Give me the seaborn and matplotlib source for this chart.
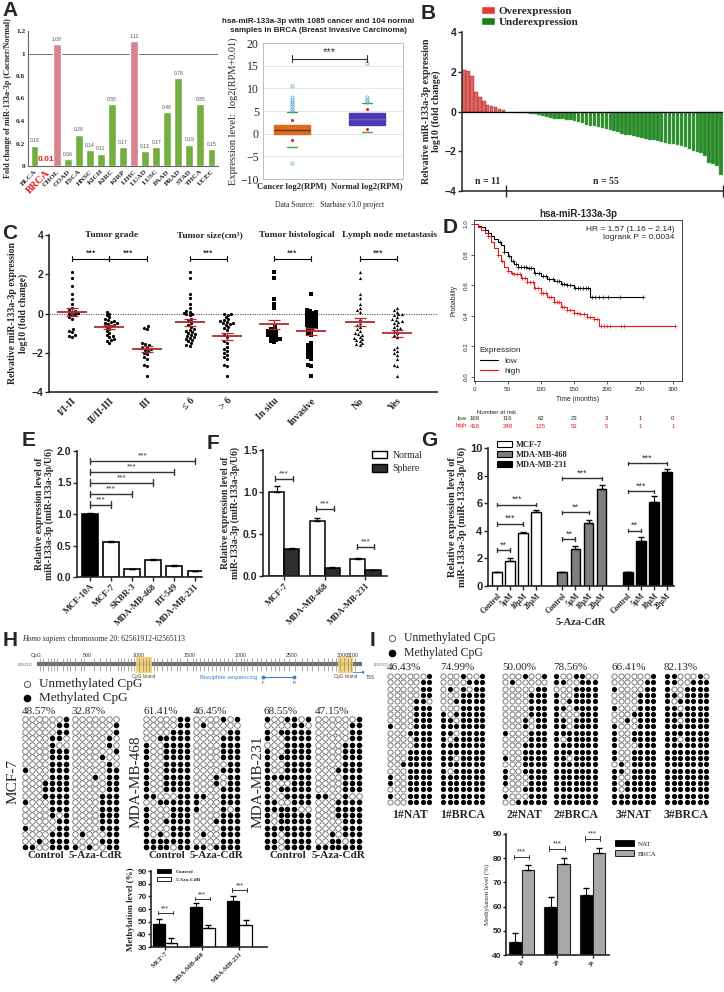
import numpy as np
import pandas as pd
import seaborn as sns
import matplotlib.pyplot as plt
import matplotlib.transforms as mtransforms
from matplotlib.patches import Patch, Rectangle
from matplotlib.lines import Line2D

# ---------------- data ----------------
# A left: fold change of miR-133a-3p in TCGA cancers
cancers = ['BLCA', 'BRCA', 'CHOL', 'COAD', 'ESCA', 'HNSC', 'KICH', 'KIRC', 'KIRP',
           'LIHC', 'LUAD', 'LUSC', 'PAAD', 'PRAD', 'STAD', 'THCA', 'UCEC']
fold_change = [0.18, 0.01, 1.08, 0.06, 0.28, 0.14, 0.11, 0.55, 0.17,
               1.11, 0.13, 0.17, 0.48, 0.78, 0.19, 0.55, 0.15]

# A right: starbase box summary
box_groups = ['Cancer log2(RPM)', 'Normal log2(RPM)']
box_med = [0.9, 3.3]
box_q1 = [-0.1, 2.0]
box_q3 = [2.0, 4.5]
box_lo = [-3.0, 0.3]
box_hi = [4.7, 6.8]
box_fliers = [[5.0, 5.5, 6.0, 6.5, 7.0, 7.5, 8.0, 10.5, -6.5], [7.0, 7.5, 8.0, 15.5]]
box_marks = [[3.0, -1.5], [5.5, 1.0]]

# B: waterfall of 66 patients
over_vals = [2.1, 2.05, 1.8, 1.0, 0.75, 0.55, 0.35, 0.3, 0.25, 0.15, 0.1]
under_vals = [-0.03, -0.04, -0.05, -0.06, -0.08, -0.1, -0.12, -0.15, -0.2, -0.25,
              -0.3, -0.35, -0.38, -0.4, -0.4, -0.42, -0.45, -0.5, -0.55, -0.6,
              -0.7, -0.72, -0.75, -0.8, -0.85, -0.9, -0.95, -1.0, -1.05, -1.15,
              -1.2, -1.2, -1.25, -1.3, -1.35, -1.4, -1.42, -1.45, -1.5, -1.55,
              -1.6, -1.62, -1.65, -1.7, -1.75, -1.8, -1.9, -2.0, -2.05, -2.1,
              -2.25, -2.6, -2.65, -2.75, -3.2]

# C: clinical groups
grade_1 = [2.1, 1.8, 1.4, 1.0, 0.75, 0.5, 0.3, 0.2, 0.15, 0.1, 0.05, 0.0, -0.05, -0.1,
           -0.2, -0.3, -0.8, -0.9, -0.95, -1.1, -1.15, -1.2]
grade_2 = [0.1, 0.0, -0.1, -0.2, -0.3, -0.35, -0.4, -0.45, -0.5, -0.5, -0.55, -0.6,
           -0.65, -0.7, -0.8, -0.9, -1.0, -1.1, -1.15, -1.2, -1.3, -1.35, -1.4, -1.5]
grade_3 = [-0.65, -0.75, -0.8, -1.5, -1.55, -1.6, -1.7, -1.75, -1.8, -1.85, -1.9, -2.0,
           -2.05, -2.2, -2.3, -2.6, -2.65, -3.2]
size_le6 = [2.1, 1.8, 1.0, 0.8, 0.5, 0.3, 0.15, 0.1, 0.05, 0.0, -0.05, -0.1, -0.3, -0.4,
            -0.5, -0.6, -0.7, -0.8, -0.85, -0.9, -0.95, -1.0, -1.05, -1.1, -1.15, -1.2,
            -1.25, -1.3, -1.35, -1.4, -1.5, -1.6, -1.65]
size_gt6 = [0.0, -0.05, -0.1, -0.2, -0.3, -0.35, -0.4, -0.45, -0.5, -0.5, -0.55, -0.6,
            -0.7, -0.75, -0.85, -1.1, -1.2, -1.4, -1.5, -1.7, -1.8, -1.9, -2.0, -2.1,
            -2.2, -2.3, -2.6, -2.65, -3.2]
hist_situ = [2.1, 1.8, 0.75, 0.5, 0.3, -0.7, -0.8, -0.85, -0.9, -0.95, -1.0, -1.05,
             -1.1, -1.15, -1.2, -1.25, -1.3, -1.35, -1.4, -1.45]
hist_inv = [1.0, 0.2, 0.15, 0.1, 0.05, 0.0, -0.05, -0.1, -0.15, -0.2, -0.25, -0.3, -0.35,
            -0.4, -0.45, -0.5, -0.55, -0.6, -0.65, -0.7, -0.75, -0.8, -0.9, -1.0, -1.1,
            -1.5, -1.6, -1.7, -1.8, -1.9, -2.0, -2.1, -2.2, -2.3, -2.6, -2.65, -3.2]
lymph_no = [2.1, 1.8, 1.0, 0.8, 0.5, 0.3, 0.2, 0.1, -0.3, -0.5, -0.6, -0.7, -0.8, -0.9,
            -1.0, -1.05, -1.1, -1.2, -1.25, -1.3, -1.35, -1.4, -1.5, -1.55, -1.6]
lymph_yes = [0.3, 0.2, 0.1, 0.0, -0.05, -0.1, -0.2, -0.3, -0.35, -0.4, -0.45, -0.5, -0.6,
             -0.7, -0.75, -0.8, -0.9, -1.0, -1.1, -1.2, -1.7, -1.8, -1.9, -2.0, -2.1,
             -2.3, -2.6, -2.65, -3.2]
c_titles = ['Tumor grade', 'Tumor size(cm³)', 'Tumor histological', 'Lymph node metastasis']
c_labels = [['I/I-II', 'II/II-III', 'III'], ['≤ 6', '> 6'], ['In situ', 'Invasive'], ['No', 'Yes']]
c_values = [[grade_1, grade_2, grade_3], [size_le6, size_gt6], [hist_situ, hist_inv],
            [lymph_no, lymph_yes]]
c_markers = ['o', 'o', 's', '^']

# D: Kaplan-Meier
low_t = [0, 5, 10, 15, 20, 25, 30, 35, 40, 45, 50, 55, 60, 65, 80, 90, 100, 110, 120,
         130, 140, 150, 175]
low_s = [1.0, 0.99, 0.98, 0.96, 0.94, 0.92, 0.90, 0.88, 0.86, 0.82, 0.79, 0.76, 0.74,
         0.72, 0.71, 0.68, 0.66, 0.64, 0.63, 0.61, 0.60, 0.58, 0.525]
low_end = 255
high_t = [0, 5, 10, 15, 20, 25, 30, 35, 40, 45, 50, 55, 60, 70, 80, 90, 100, 110, 120,
          130, 140, 150, 160, 170, 180, 188]
high_s = [1.0, 0.98, 0.96, 0.94, 0.92, 0.88, 0.84, 0.80, 0.76, 0.72, 0.69, 0.68, 0.67,
          0.65, 0.62, 0.58, 0.55, 0.52, 0.49, 0.46, 0.44, 0.42, 0.41, 0.39, 0.38, 0.335]
high_end = 303
low_censor = [38, 45, 52, 58, 62, 66, 70, 75, 78, 82, 86, 92, 98, 104, 108, 112, 118, 124,
              128, 132, 136, 140, 145, 152, 156, 160, 164, 168, 172, 178, 183, 188, 195,
              202, 220, 255]
high_censor = [20, 35, 42, 50, 56, 60, 64, 68, 72, 76, 80, 84, 88, 92, 96, 100, 104, 108,
               112, 116, 120, 124, 128, 132, 136, 140, 144, 150, 155, 160, 165, 170, 175,
               180, 186, 192, 196, 200, 205, 222, 226, 303]
risk_times = [0, 50, 100, 150, 200, 250, 300]
risk_low = [169, 116, 62, 23, 3, 1, 0]
risk_high = [416, 248, 125, 53, 5, 1, 1]

# E: cell lines
e_lines = ['MCF-10A', 'MCF-7', 'SKBR-3', 'MDA-MB-468', 'BT-549', 'MDA-MB-231']
e_vals = [1.0, 0.56, 0.12, 0.27, 0.18, 0.09]
e_err = [0.01, 0.01, 0.005, 0.01, 0.01, 0.005]
e_sig_y = [1.15, 1.32, 1.5, 1.67, 1.84]

# F: normal vs sphere
f_cells = ['MCF-7', 'MDA-MB-468', 'MDA-MB-231']
f_normal = [1.0, 0.65, 0.2]
f_normal_err = [0.07, 0.04, 0.01]
f_sphere = [0.32, 0.1, 0.07]
f_sphere_err = [0.01, 0.01, 0.005]
f_sig_y = [1.16, 0.8, 0.35]

# G: 5-Aza-CdR dose
g_cells = ['MCF-7', 'MDA-MB-468', 'MDA-MB-231']
g_doses = ['Control', '5μM', '10μM', '20μM']
g_mcf7 = [1.0, 1.8, 3.85, 5.35]
g_mcf7_err = [0.03, 0.25, 0.08, 0.15]
g_468 = [1.0, 2.65, 4.6, 7.05]
g_468_err = [0.03, 0.25, 0.2, 0.25]
g_231 = [1.0, 3.25, 6.1, 8.25]
g_231_err = [0.03, 0.3, 0.4, 0.25]
g_sig = [[(1, 2.6, '**'), (2, 4.5, '***'), (3, 5.9, '***')],
         [(1, 3.4, '**'), (2, 5.35, '**'), (3, 7.8, '***')],
         [(1, 4.0, '**'), (2, 6.85, '***'), (3, 8.9, '***')]]

# H: bisulfite sequencing (1 = methylated CpG)
cpg_sites = [30, 60, 110, 140, 170, 200, 260, 300, 330, 380, 440, 470, 560, 620, 680, 720,
             800, 830, 860, 900, 930, 960, 1000, 1040, 1070, 1100, 1150, 1180, 1230, 1280,
             1320, 1380, 1410, 1480, 1530, 1560, 1600, 1640, 1680, 1720, 1760, 1800, 1840,
             1880, 1920, 1960, 2000, 2030, 2060, 2110, 2160, 2200, 2250, 2300, 2340, 2380,
             2430, 2480, 2530, 2600, 2650, 2700, 2760, 2820, 2860, 2900, 2940, 2980, 3010,
             3050, 3080, 3120]
cpg_islands = [(975, 1132), (2956, 3103)]
scale_ticks = [0, 500, 1000, 1500, 2000, 2500, 3000, 3100]
scale_labels = ['CpG', '500', '1000', '1500', '2000', '2500', '3000', '3100']
primer_f, primer_r = 2221, 2525
tss = 3073

h_pct = ['48.57%', '32.87%', '61.41%', '46.45%', '68.55%', '47.15%']
h_grids = [
    ['0000001', '0000011', '0000011', '0000110', '0000100', '0000111', '0000111',
     '0000111', '1000111', '0000111', '0001111', '0001111', '0001111', '1000111',
     '0000111', '0000101', '0000011', '1000011', '0000111', '0010111', '1100111'],
    ['0000000', '0000001', '0000001', '0000010', '0000010', '0000001', '0000100',
     '0000010', '0000011', '0001011', '0000011', '0000011', '0000111', '0000111',
     '0000111', '0000111', '0000111', '0000111', '0100011', '0000111', '1010011'],
    ['0000011', '0000011', '0000111', '0011111', '1001111', '1001111', '1001111',
     '1001111', '1001111', '1001111', '1001111', '1001111', '1100011', '0011111',
     '1000111', '1000111', '1001111', '1000111', '1010111', '1111111', '1111011'],
    ['0000101', '0100000', '0000011', '0000111', '0000111', '0000111', '0000111',
     '0000011', '0000111', '0001011', '0001011', '0000111', '1100111', '1000111',
     '1000101', '0000111', '0001111', '0000111', '0100111', '0000111', '1101111'],
    ['1001101', '0000110', '1011111', '1001111', '0001111', '1001111', '1011111',
     '1001111', '1001111', '1111111', '1000111', '1011111', '1001111', '1100111',
     '1111100', '1011111', '1011111', '1111111', '1101111', '1101111', '1101111'],
    ['0000001', '0000011', '0000011', '0000011', '0000111', '0000111', '0000111',
     '0000111', '0001111', '0000111', '0000111', '0000111', '1100100', '0001111',
     '0001111', '0001111', '0000111', '0000111', '0010111', '0011011', '1111111'],
]
h_names = ['MCF-7', 'MDA-MB-468', 'MDA-MB-231']
h_conds = ['Control', '5-Aza-CdR']
h_control = [48.5, 61.5, 66.5]
h_control_err = [3.5, 3.5, 3.5]
h_aza = [33.0, 45.0, 47.0]
h_aza_err = [4.0, 2.5, 4.0]
h_sig_y = [57, 68, 75]

# I: patient tissue bisulfite sequencing
i_pct = ['46.43%', '74.99%', '50.00%', '78.56%', '66.41%', '82.13%']
i_names = ['1#NAT', '1#BRCA', '2#NAT', '2#BRCA', '3#NAT', '3#BRCA']
i_grids = [
    ['0000001', '0000011', '0000011', '0000011', '0000110', '0000111', '0000111',
     '0000111', '1000111', '0001111', '0000111', '0000111', '0001111', '0001111',
     '0011111', '0001111', '1001111', '1001111', '0001111', '1001111', '0001111'],
    ['0001001', '0000111', '0101011', '0001111', '0011111', '0001111', '1011111',
     '1101111', '1111111', '1101111', '1011111', '1111111', '1111111', '1101111',
     '1111111', '1011111', '1111111', '1111111', '1111111', '1111111', '1111111'],
    ['0001001', '0100000', '0000011', '0000111', '0000111', '0000111', '0000111',
     '0001011', '0001011', '1000111', '0000111', '0001111', '0001111', '1001111',
     '0001111', '1001111', '1000111', '1000111', '0001111', '1000111', '0011111'],
    ['1001100', '1100111', '0001111', '1001111', '1011111', '1101111', '1000111',
     '1101111', '1101111', '1111111', '1011111', '1111111', '1111111', '1101111',
     '1111111', '1111111', '1111111', '1111111', '1111111', '1111111', '1111111'],
    ['0000001', '0000011', '1000011', '0000111', '0000111', '1000111', '0001111',
     '0010111', '1000111', '1001111', '1001111', '1000111', '1001111', '1001111',
     '0101111', '1101111', '1001111', '1011111', '1011111', '1111111', '1111111'],
    ['1100010', '1100111', '1001111', '1101111', '1011111', '1101111', '1111111',
     '1101111', '1111111', '1111111', '1101111', '1111111', '1111111', '1111111',
     '1111111', '1111111', '1111111', '1111111', '1111111', '1111111', '1111111'],
]
i_pairs = ['1#', '2#', '3#']
i_nat = [45.5, 60.0, 65.0]
i_nat_err = [3.5, 3.8, 2.5]
i_brca = [75.0, 77.5, 82.3]
i_brca_err = [2.0, 2.5, 1.8]
i_sig_y = [80.5, 84, 88]

# ---------------- style ----------------
sns.set_theme(style="ticks")
plt.rcParams['font.family'] = ['Liberation Sans', 'DejaVu Sans']
plt.rcParams['axes.linewidth'] = 0.8
SERIF = ['Liberation Serif', 'DejaVu Serif']
SANS = ['Liberation Sans', 'DejaVu Sans']

W, H = 724, 992
fig = plt.figure(figsize=(W / 100, H / 100), dpi=100)
ov = fig.add_axes([0, 0, 1, 1])
ov.set_xlim(0, W)
ov.set_ylim(H, 0)
ov.axis('off')


def px_axes(x0, y0, x1, y1):
    return fig.add_axes([x0 / W, 1 - y1 / H, (x1 - x0) / W, (y1 - y0) / H])


def ftext(x, y, s, **kw):
    ov.text(x, y, s, **kw)


def style_ticks(ax, size, family=SANS, weight='bold', which='both'):
    labs = []
    if which in ('both', 'x'):
        labs += ax.get_xticklabels()
    if which in ('both', 'y'):
        labs += ax.get_yticklabels()
    for t in labs:
        t.set_fontsize(size)
        t.set_family(family)
        t.set_fontweight(weight)


def bracket(ax, x0, x1, y, txt, dy, size=6.5, color='black', lw=0.8):
    ax.plot([x0, x1], [y, y], color=color, lw=lw, clip_on=False)
    ax.plot([x0, x0], [y - dy, y + dy], color=color, lw=lw, clip_on=False)
    ax.plot([x1, x1], [y - dy, y + dy], color=color, lw=lw, clip_on=False)
    ax.text((x0 + x1) / 2, y + dy * 0.5, txt, ha='center', va='bottom', fontsize=size,
            color=color, clip_on=False)


def panel_letter(x, y, s):
    ftext(x, y, s, fontsize=15, fontweight='bold', family=SANS, va='top', ha='left')


def bar_axes_finish(ax, ylab, ysize=7.5, xsize=6.5, lab_size=7):
    sns.despine(ax=ax)
    ax.set_xlabel('')
    ax.set_ylabel(ylab, fontsize=lab_size, family=SERIF, fontweight='bold', labelpad=2,
                  linespacing=1.1)
    ax.tick_params(axis='y', length=3, width=1.0, pad=1)
    ax.tick_params(axis='x', length=3, width=1.0, pad=1)
    for sp in ax.spines.values():
        sp.set_linewidth(1.2)
    style_ticks(ax, ysize, SANS, 'bold', 'y')
    style_ticks(ax, xsize, SERIF, 'bold', 'x')


# ---------------- A left ----------------
panel_letter(2, 1, 'A')
axA = px_axes(28, 31, 218, 166)
colA = ['#222222' if c == 'BRCA' else ('#d98390' if v > 1 else '#74ae41')
        for c, v in zip(cancers, fold_change)]
sns.barplot(x=cancers, y=fold_change, hue=cancers, palette=colA, legend=False, width=0.7,
            saturation=1, ax=axA)
axA.axhline(1, color='#707070', lw=0.7, zorder=0)
for i, (c, v) in enumerate(zip(cancers, fold_change)):
    if c == 'BRCA':
        axA.text(i, v + 0.02, f'{v:.2f}', ha='center', va='bottom', fontsize=6,
                 color='#e0201b', fontweight='bold')
    else:
        axA.text(i, v + 0.02, f'{v:.2f}', ha='center', va='bottom', fontsize=3.6,
                 color='#555555')
axA.set_ylim(0, 1.2)
axA.set_xlim(-0.6, 16.6)
axA.set_yticks([0, 0.2, 0.4, 0.6, 0.8, 1.0, 1.2])
axA.set_yticklabels(['0', '0.2', '0.4', '0.6', '0.8', '1', '1.2'])
axA.set_xticks(range(len(cancers)))
axA.set_xticklabels(cancers, rotation=45, ha='right', rotation_mode='anchor')
style_ticks(axA, 5.2, SERIF)
brca_lab = axA.get_xticklabels()[cancers.index('BRCA')]
brca_lab.set_color('#e0201b')
brca_lab.set_fontsize(7.5)
axA.tick_params(axis='x', length=0, pad=2)
axA.tick_params(axis='y', length=0, pad=2)
axA.set_ylabel('Fold change of miR-133a-3p (Cacner/Normal)', fontsize=5.9, family=SERIF,
               fontweight='bold', labelpad=3)
sns.despine(ax=axA)
for sp in axA.spines.values():
    sp.set_color('#666666')

# ---------------- A right ----------------
ftext(318, 26, 'hsa-miR-133a-3p with 1085 cancer and 104 normal\nsamples in BRCA (Breast Invasive Carcinoma)',
      ha='center', va='center', fontsize=5.8, fontweight='bold', family=SANS, linespacing=1.35)
axBox = px_axes(263, 43, 403, 179)
stats = [dict(med=box_med[i], q1=box_q1[i], q3=box_q3[i], whislo=box_lo[i],
              whishi=box_hi[i], fliers=box_fliers[i], label=box_groups[i]) for i in range(2)]
bp = axBox.bxp(stats, positions=[1, 2], widths=0.49, patch_artist=True, capwidths=0.14,
               medianprops=dict(lw=1.0), whiskerprops=dict(lw=0),
               capprops=dict(color='#3fa34d', lw=1.0),
               flierprops=dict(marker='o', mfc='none', mec='#4aa3c8', ms=2.3, mew=0.5))
for patch, fc, mc, line in zip(bp['boxes'], ['#dd6a1f', '#4a3aae'], ['#6b3410', '#6a5fd0'],
                               bp['medians']):
    patch.set_facecolor(fc)
    patch.set_edgecolor(fc)
    line.set_color(mc)
for i, marks in enumerate(box_marks):
    axBox.scatter([i + 1] * len(marks), marks, s=1.5, color='#e02020', zorder=5)
axBox.set_xlim(0.614, 2.48)
axBox.set_ylim(-10, 20)
axBox.set_yticks(range(-10, 21, 5))
axBox.yaxis.grid(True, color='#e3e3e3', lw=0.6)
axBox.set_axisbelow(True)
for sp in axBox.spines.values():
    sp.set_color('#bdbdbd')
    sp.set_linewidth(0.7)
axBox.tick_params(length=0, pad=3)
axBox.set_xticks([1, 2])
axBox.set_xticklabels(box_groups)
style_ticks(axBox, 8.5, SERIF, 'normal', 'y')
style_ticks(axBox, 6.2, SERIF, 'bold', 'x')
axBox.set_ylabel('Expression level:  log2(RPM+0.01)', fontsize=7.5, family=SERIF, labelpad=2)
bracket(axBox, 1, 2, 16.5, '***', 0.8, size=8, color='#333333')
ftext(330, 205, 'Data Source:   Starbase v3.0 project', ha='center', va='center', fontsize=5.5,
      family=SERIF)

# ---------------- B ----------------
panel_letter(421, 4, 'B')
axB = px_axes(462, 32, 723, 191)
b_vals = over_vals + under_vals
b_kind = ['Overexpression'] * len(over_vals) + ['Underexpression'] * len(under_vals)
sns.barplot(x=list(range(len(b_vals))), y=b_vals, hue=b_kind,
            palette={'Overexpression': '#e36363', 'Underexpression': '#2b8a2b'},
            dodge=False, width=0.9, saturation=1, legend=False, ax=axB)
for p in axB.patches:
    if p.get_height() > 0:
        p.set_edgecolor('#8e1f1f')
    else:
        p.set_edgecolor('#66bb66')
    p.set_linewidth(0.3)
axB.axhline(0, color='black', lw=0.9)
axB.set_xlim(-0.5, len(b_vals) - 0.5)
axB.set_ylim(-4, 4)
axB.set_yticks([-4, -2, 0, 2, 4])
axB.set_xticks([len(over_vals) - 0.5, len(b_vals) - 0.6])
axB.set_xticklabels(['', ''])
axB.tick_params(axis='x', direction='inout', length=8, width=1.0)
axB.tick_params(axis='y', length=3, width=1.0, pad=1)
sns.despine(ax=axB)
for sp in axB.spines.values():
    sp.set_linewidth(1.1)
style_ticks(axB, 7.5, SANS, 'bold', 'y')
axB.set_xlabel('')
axB.set_ylabel('Relvative miR-133a-3p expression\nlog10 (fold change)', fontsize=7.2,
               family=SERIF, fontweight='bold', labelpad=3, linespacing=1.05)
axB.text(6, -3.5, 'n = 11', ha='center', va='center', fontsize=7, family=SERIF,
         fontweight='bold')
axB.text(36, -3.5, 'n = 55', ha='center', va='center', fontsize=7, family=SERIF,
         fontweight='bold')
fig.legend(handles=[Patch(fc='#e53935', label='Overexpression'),
                    Patch(fc='#1b7d1b', label='Underexpression')],
           loc='upper left', bbox_to_anchor=(475 / W, 1 - 0.5 / H), frameon=False,
           prop=dict(family=SERIF, weight='bold', size=8), handlelength=1.3,
           handleheight=0.7, labelspacing=0.12, borderpad=0, handletextpad=0.3)

# ---------------- C ----------------
panel_letter(2, 224, 'C')
axC = px_axes(49, 235, 437, 392)
c_pos = [[2, 3, 4], [5.15, 6.15], [7.4, 8.4], [9.7, 10.7]]
c_title_x = [3.07, 5.69, 8.02, 10.51]
for pos, vals, mk in zip(c_pos, c_values, c_markers):
    xs = np.concatenate([[p] * len(v) for p, v in zip(pos, vals)])
    ys = np.concatenate(vals)
    sns.swarmplot(x=xs, y=ys, native_scale=True, color='black', size=2.3, marker=mk,
                  linewidth=0, ax=axC)
    for p, v in zip(pos, vals):
        v = np.array(v)
        m = v.mean()
        sem = v.std(ddof=1) / np.sqrt(len(v))
        axC.hlines(m, p - 0.4, p + 0.4, color='#b22a2a', lw=1.3, zorder=6)
        axC.errorbar(p, m, yerr=sem, color='#b22a2a', lw=0.9, capsize=4.5, capthick=0.9,
                     zorder=6)
    for a, b in zip(pos[:-1], pos[1:]):
        bracket(axC, a, b, 2.8, '***', 0.12, size=6.5)
for tx, title in zip(c_title_x, c_titles):
    axC.text(tx, 4.0, title, ha='center', va='center', fontsize=6.8, family=SERIF,
             fontweight='bold')
axC.axhline(0, color='#555555', lw=0.8, ls=(0, (1, 1.2)), zorder=0)
axC.set_xlim(1.384, 11.77)
axC.set_ylim(-4, 4)
axC.set_yticks([-4, -2, 0, 2, 4])
flat_pos = [p for pos in c_pos for p in pos]
flat_lab = [l for labs in c_labels for l in labs]
axC.set_xticks(flat_pos)
axC.set_xticklabels(flat_lab, rotation=45, ha='right', rotation_mode='anchor')
bar_axes_finish(axC, 'Relvative miR-133a-3p expression\nlog10 (fold change)', ysize=7.5,
                xsize=7, lab_size=7.0)
axC.yaxis.labelpad = 3
axC.tick_params(axis='x', length=0, pad=3)

# ---------------- D ----------------
panel_letter(443, 218, 'D')
axD = px_axes(474, 220, 682, 381)


def surv_at(times, surv, t):
    return surv[np.searchsorted(times, t, side='right') - 1]


for tt, ss, t_end, cens, col in [(low_t, low_s, low_end, low_censor, 'black'),
                                  (high_t, high_s, high_end, high_censor, '#e8161b')]:
    axD.step(list(tt) + [t_end], list(ss) + [ss[-1]], where='post', color=col, lw=0.8)
    axD.plot(cens, [surv_at(tt, ss, c) for c in cens], ls='none', marker='+', ms=3,
             mew=0.5, color=col)
axD.set_xlim(-1, 314)
axD.set_ylim(-0.026, 1.026)
axD.set_xticks(risk_times)
axD.set_yticks([0, 0.2, 0.4, 0.6, 0.8, 1.0])
axD.set_yticklabels(['0.0', '0.2', '0.4', '0.6', '0.8', '1.0'], rotation=90, va='center')
axD.tick_params(length=2, width=0.5, labelsize=4.5, pad=2)
for sp in axD.spines.values():
    sp.set_linewidth(0.6)
axD.set_xlabel('Time (months)', fontsize=4.8, labelpad=3)
axD.set_ylabel('Probability', fontsize=4.8, labelpad=4)
axD.set_title('hsa-miR-133a-3p', fontsize=7, fontweight='bold', pad=2)
axD.text(0.965, 0.965, 'HR = 1.57 (1.16 − 2.14)\nlogrank P = 0.0034', transform=axD.transAxes,
         ha='right', va='top', fontsize=6, linespacing=1.25)
leg = axD.legend(handles=[Line2D([], [], color='black', lw=0.8, label='low'),
                          Line2D([], [], color='#e8161b', lw=0.8, label='high')],
                 title='Expression', loc='lower left', frameon=False, fontsize=6,
                 title_fontsize=6, alignment='left', handlelength=2.2, borderaxespad=0.3,
                 labelspacing=0.3)
trD = mtransforms.blended_transform_factory(axD.transData, fig.transFigure)
ftext(477, 412, 'Number at risk', fontsize=4.3, va='center')
ftext(467, 419, 'low', fontsize=4.3, va='center', ha='right')
ftext(467, 426, 'high', fontsize=4.3, va='center', ha='right', color='#e8161b')
for t, nl, nh in zip(risk_times, risk_low, risk_high):
    axD.text(t, 1 - 419 / H, str(nl), transform=trD, ha='center', va='center', fontsize=4.3)
    axD.text(t, 1 - 426 / H, str(nh), transform=trD, ha='center', va='center', fontsize=4.3,
             color='#e8161b')

# ---------------- E ----------------
panel_letter(22, 431, 'E')
axE = px_axes(77, 451, 202, 577)
sns.barplot(x=e_lines, y=e_vals, hue=e_lines, palette=['black'] + ['white'] * 5,
            edgecolor='black', linewidth=1.2, width=0.72, saturation=1, legend=False, ax=axE)
axE.errorbar(range(len(e_lines)), e_vals, yerr=[np.zeros(len(e_err)), e_err], fmt='none',
             ecolor='black', elinewidth=0.8, capsize=2.5)
for j, y in enumerate(e_sig_y):
    bracket(axE, 0, j + 1, y, '***', 0.05, size=6, color='#333333', lw=1.0)
axE.set_xlim(-0.62, 5.33)
axE.set_ylim(0, 2.0)
axE.set_yticks([0, 0.5, 1.0, 1.5, 2.0])
axE.set_yticklabels(['0.0', '0.5', '1.0', '1.5', '2.0'])
axE.set_xticks(range(len(e_lines)))
axE.set_xticklabels(e_lines, rotation=45, ha='right', rotation_mode='anchor')
bar_axes_finish(axE, 'Relative expression level of\nmiR-133a-3p (miR-133a-3p/U6)')

# ---------------- F ----------------
panel_letter(207, 434, 'F')
axF = px_axes(263, 450, 387, 576)
dfF = pd.DataFrame({'cell': f_cells * 2, 'val': f_normal + f_sphere,
                    'cond': ['Normal'] * 3 + ['Sphere'] * 3})
sns.barplot(data=dfF, x='cell', y='val', hue='cond', palette=['white', '#2e2e2e'],
            edgecolor='black', linewidth=1.1, width=0.75, saturation=1, legend=False, ax=axF)
xF = np.arange(3)
axF.errorbar(xF - 0.1875, f_normal, yerr=[np.zeros(3), f_normal_err], fmt='none',
             ecolor='black', elinewidth=0.8, capsize=2.5)
axF.errorbar(xF + 0.1875, f_sphere, yerr=[np.zeros(3), f_sphere_err], fmt='none',
             ecolor='black', elinewidth=0.8, capsize=2.5)
for k, y in enumerate(f_sig_y):
    bracket(axF, k - 0.22, k + 0.22, y, '***', 0.03, size=6, color='#333333', lw=1.0)
axF.set_xlim(-0.52, 2.53)
axF.set_ylim(0, 1.5)
axF.set_yticks([0, 0.5, 1.0, 1.5])
axF.set_yticklabels(['0.0', '0.5', '1.0', '1.5'])
axF.set_xticks(xF)
axF.set_xticklabels(f_cells, rotation=45, ha='right', rotation_mode='anchor')
bar_axes_finish(axF, 'Relative expression level of\nmiR-133a-3p (miR-133a-3p/U6)')
fig.legend(handles=[Patch(fc='white', ec='black', lw=1.0, label='Normal'),
                    Patch(fc='#2e2e2e', ec='black', lw=1.0, label='Sphere')],
           loc='upper left', bbox_to_anchor=(367 / W, 1 - 446 / H), frameon=False,
           prop=dict(family=SERIF, size=7), handlelength=1.6, handleheight=0.8,
           labelspacing=0.45, borderpad=0, handletextpad=0.5)

# ---------------- G ----------------
panel_letter(421, 431, 'G')
axG = px_axes(488, 448, 674, 586)
g_vals = [g_mcf7, g_468, g_231]
g_errs = [g_mcf7_err, g_468_err, g_231_err]
g_colors = ['white', '#7f7f7f', 'black']
g_pos = [[0, 1, 2, 3], [5, 6, 7, 8], [10, 11, 12, 13]]
dfG = pd.DataFrame({'pos': sum(g_pos, []), 'val': sum(g_vals, []),
                    'cell': [c for c in g_cells for _ in g_doses]})
sns.barplot(data=dfG, x='pos', y='val', hue='cell', palette=g_colors, native_scale=True,
            dodge=False, edgecolor='black', linewidth=1.0, width=0.75, saturation=1,
            legend=False, ax=axG)
for pos, vals, errs, sigs in zip(g_pos, g_vals, g_errs, g_sig):
    axG.errorbar(pos, vals, yerr=[np.zeros(len(errs)), errs], fmt='none', ecolor='black',
                 elinewidth=0.8, capsize=2)
    for j, y, txt in sigs:
        bracket(axG, pos[0], pos[j], y, txt, 0.12, size=6.5, color='#333333', lw=1.0)
axG.set_xlim(-0.69, 13.54)
axG.set_ylim(0, 10)
axG.set_yticks([0, 2, 4, 6, 8, 10])
axG.set_xticks(sum(g_pos, []))
axG.set_xticklabels(g_doses * 3, rotation=45, ha='right', rotation_mode='anchor')
bar_axes_finish(axG, 'Relative expression level of\nmiR-133a-3p (miR-133a-3p/U6)', ysize=8,
                xsize=5.5, lab_size=7.5)
axG.set_xlabel('5-Aza-CdR', fontsize=7.5, family=SERIF, fontweight='bold', labelpad=2)
fig.legend(handles=[Patch(fc=c, ec='black', lw=0.8, label=l) for c, l in zip(g_colors, g_cells)],
           loc='upper left', bbox_to_anchor=(493 / W, 1 - 437 / H), frameon=False,
           prop=dict(family=SERIF, weight='bold', size=6), handlelength=1.8, handleheight=0.7,
           labelspacing=0.25, borderpad=0, handletextpad=0.4)

# ---------------- H ----------------
panel_letter(3, 631, 'H')
ftext(22, 639, 'Homo sapiens', fontsize=5.5, family=SERIF, style='italic', va='center')
ftext(68, 639, 'chromosome 20: 62561912-62565113', fontsize=5.5, family=SERIF, va='center')
axGene = px_axes(36.5, 648, 366.5, 690)
axGene.set_xlim(0, 3235)
axGene.set_ylim(690, 648)
axGene.axis('off')
axGene.plot([5, 3190], [664, 664], color='#6d6d6d', lw=3, solid_capstyle='butt')
for a, b in cpg_islands:
    axGene.add_patch(Rectangle((a, 656.5), b - a, 16, fc='#f7cf6a', ec='none', alpha=0.9,
                               zorder=3))
    axGene.text((a + b) / 2, 676.5, 'CpG Island', ha='center', va='center', fontsize=3.3,
                color='#444444')
axGene.vlines(cpg_sites, 658, 670.5, color='#8a8a8a', lw=0.5, zorder=4)
for t, lab in zip(scale_ticks, scale_labels):
    axGene.text(t, 655, lab, ha='center', va='center', fontsize=3.8, color='#333333',
                clip_on=False)
axGene.text(-110, 665, '62561912', ha='center', va='center', fontsize=2.4, color='#666666',
            clip_on=False)
axGene.text(3380, 665, '62565113', ha='center', va='center', fontsize=2.4, color='#666666',
            clip_on=False)
axGene.plot([primer_f, primer_r], [677, 677], color='#3f7fc4', lw=0.8, marker='o', ms=1.8)
axGene.text(primer_f - 60, 677, 'Bisulphite sequencing', ha='right', va='center',
            fontsize=4.2, color='#3f7fc4')
axGene.text(primer_f, 683, 'F', ha='center', va='center', fontsize=3, color='#333333')
axGene.text(primer_r, 683, 'R', ha='center', va='center', fontsize=3, color='#333333')
axGene.annotate('', xy=(3200, 677), xytext=(tss, 672),
                arrowprops=dict(arrowstyle='-|>', color='#3f7fc4', lw=0.6,
                                connectionstyle='angle,angleA=0,angleB=90,rad=0',
                                mutation_scale=3))
axGene.text(3225, 677, 'TSS', ha='left', va='center', fontsize=3.3, color='#333333',
            clip_on=False)


def draw_grid(rows, x_first, y_first, xp, yp, size):
    n_r, n_c = len(rows), len(rows[0])
    gax = px_axes(x_first - xp / 2, y_first - yp / 2, x_first + (n_c - 0.5) * xp,
                  y_first + (n_r - 0.5) * yp)
    gax.set_xlim(-0.5, n_c - 0.5)
    gax.set_ylim(n_r - 0.5, -0.5)
    gax.axis('off')
    rr, cc, mm = [], [], []
    for r, s in enumerate(rows):
        for c, ch in enumerate(s):
            rr.append(r)
            cc.append(c)
            mm.append(ch == '1')
    rr, cc, mm = np.array(rr), np.array(cc), np.array(mm)
    gax.scatter(cc[~mm], rr[~mm], s=size, facecolor='white', edgecolor='#6a6a6a',
                linewidths=0.6, clip_on=False)
    gax.scatter(cc[mm], rr[mm], s=size, color='black', linewidths=0, clip_on=False)


# legend glyphs
for (x, y0, fs) in [(27, 684, 9.5), (392, 638, 8.5)]:
    ov.scatter([x], [y0], s=20, facecolor='white', edgecolor='#555555', linewidths=0.7)
    ov.scatter([x], [y0 + (14 if fs > 9 else 15)], s=20, color='black')
    ftext(x + 12, y0, 'Unmethylated CpG', fontsize=fs, family=SERIF, va='center')
    ftext(x + 12, y0 + (14 if fs > 9 else 15), 'Methylated CpG', fontsize=fs, family=SERIF,
          va='center')

h_grid_x = [25, 75, 146, 196, 267, 318]
for k, (rows, x0, pct) in enumerate(zip(h_grids, h_grid_x, h_pct)):
    draw_grid(rows, x0, 719, 6.83, 6.4, 16)
    ftext(x0 - 3, 712, pct, fontsize=8, family=SERIF, va='center', ha='left')
    ftext(x0 + 3 * 6.83, 855, h_conds[k % 2], fontsize=8, family=SERIF, fontweight='bold',
          ha='center', va='center')
for name, x in zip(h_names, [13, 136, 258]):
    ftext(x, 782, name, fontsize=11, family=SERIF, rotation=90, ha='center', va='center')

axHb = px_axes(151, 871, 267, 947)
dfH = pd.DataFrame({'cell': h_names * 2, 'val': h_control + h_aza,
                    'cond': ['Control'] * 3 + ['5-Aza-CdR'] * 3})
sns.barplot(data=dfH, x='cell', y='val', hue='cond', palette=['black', 'white'],
            edgecolor='black', linewidth=0.9, width=0.66, saturation=1, legend=False, ax=axHb)
xH = np.arange(3)
axHb.errorbar(xH - 0.165, h_control, yerr=[np.zeros(3), h_control_err], fmt='none',
              ecolor='black', elinewidth=0.7, capsize=2)
axHb.errorbar(xH + 0.165, h_aza, yerr=[np.zeros(3), h_aza_err], fmt='none', ecolor='black',
              elinewidth=0.7, capsize=2)
for k, y in enumerate(h_sig_y):
    bracket(axHb, k - 0.2, k + 0.2, y, '***', 1.2, size=5, color='#333333', lw=0.7)
axHb.set_xlim(-0.38, 2.74)
axHb.set_ylim(30, 90)
axHb.set_yticks(range(30, 91, 10))
axHb.set_xticks(xH)
axHb.set_xticklabels(h_names, rotation=45, ha='right', rotation_mode='anchor')
bar_axes_finish(axHb, 'Methylation level (%)', ysize=6, xsize=4.8, lab_size=6.5)
axHb.tick_params(length=2)
fig.legend(handles=[Patch(fc='black', ec='black', lw=0.6, label='Control'),
                    Patch(fc='white', ec='black', lw=0.6, label='5-Aza-CdR')],
           loc='upper left', bbox_to_anchor=(154 / W, 1 - 866 / H), frameon=False,
           prop=dict(family=SERIF, weight='bold', size=3.8), handlelength=2.8,
           handleheight=0.9, labelspacing=0.6, borderpad=0, handletextpad=0.8)

# ---------------- I ----------------
panel_letter(370, 631, 'I')
i_grid_x = [390, 443, 505, 556, 614, 667]
for rows, x0, pct, name in zip(i_grids, i_grid_x, i_pct, i_names):
    draw_grid(rows, x0, 676, 6.5, 6.3, 14)
    ftext(x0 - 3, 668, pct, fontsize=8, family=SERIF, va='center', ha='left')
    ftext(x0 + 3 * 6.5, 815, name, fontsize=8.5, family=SERIF, fontweight='bold',
          ha='center', va='center')

axIb = px_axes(506, 834, 609, 955)
dfI = pd.DataFrame({'pair': i_pairs * 2, 'val': i_nat + i_brca,
                    'tissue': ['NAT'] * 3 + ['BRCA'] * 3})
sns.barplot(data=dfI, x='pair', y='val', hue='tissue', palette=['black', '#a8a8a8'],
            edgecolor='#222222', linewidth=0.8, width=0.72, saturation=1, legend=False, ax=axIb)
xI = np.arange(3)
axIb.errorbar(xI - 0.18, i_nat, yerr=[np.zeros(3), i_nat_err], fmt='none', ecolor='black',
              elinewidth=0.7, capsize=2)
axIb.errorbar(xI + 0.18, i_brca, yerr=[np.zeros(3), i_brca_err], fmt='none', ecolor='black',
              elinewidth=0.7, capsize=2)
for k, y in enumerate(i_sig_y):
    bracket(axIb, k - 0.22, k + 0.22, y, '***', 1.0, size=5.5, color='#333333', lw=0.7)
axIb.set_xlim(-0.44, 2.46)
axIb.set_ylim(40, 90)
axIb.set_yticks(range(40, 91, 10))
axIb.set_xticks(xI)
axIb.set_xticklabels(i_pairs, rotation=45, ha='right', rotation_mode='anchor')
bar_axes_finish(axIb, 'Methylation level (%)', ysize=6, xsize=4.5, lab_size=5)
axIb.yaxis.label.set_fontweight('normal')
axIb.tick_params(length=2)
fig.legend(handles=[Patch(fc='black', ec='black', lw=0.6, label='NAT'),
                    Patch(fc='#a8a8a8', ec='black', lw=0.6, label='BRCA')],
           loc='upper left', bbox_to_anchor=(612 / W, 1 - 837 / H), frameon=False,
           prop=dict(family=SERIF, size=5), handlelength=2.6, handleheight=0.9,
           labelspacing=0.5, borderpad=0, handletextpad=0.6)

fig.savefig('out.png', dpi=100)
